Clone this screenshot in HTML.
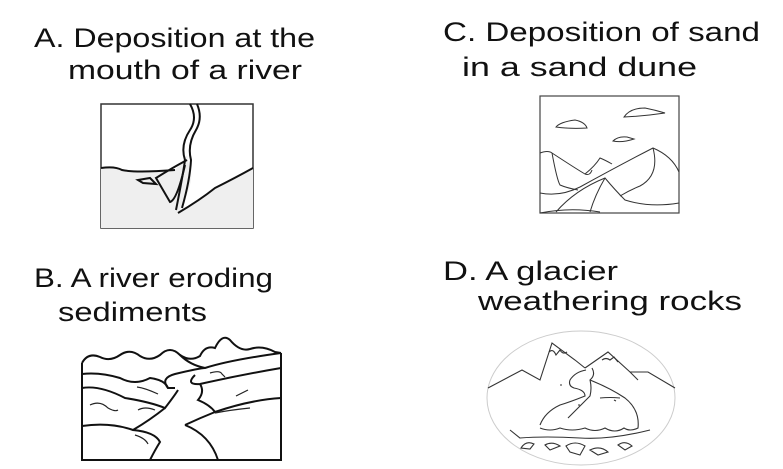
<!DOCTYPE html>
<html><head><meta charset="utf-8"><style>
body{margin:0;background:#fff;}
svg{display:block}
text{font-family:"Liberation Sans",sans-serif;font-size:27px;fill:#111}
</style></head><body>
<svg width="783" height="469" viewBox="0 0 783 469" xmlns="http://www.w3.org/2000/svg">
<text x="34" y="47" textLength="281" lengthAdjust="spacingAndGlyphs">A. Deposition at the</text>
<text x="68" y="79" textLength="234" lengthAdjust="spacingAndGlyphs">mouth of a river</text>
<text x="443" y="41" textLength="317" lengthAdjust="spacingAndGlyphs">C. Deposition of sand</text>
<text x="462" y="76" textLength="235" lengthAdjust="spacingAndGlyphs">in a sand dune</text>
<text x="34" y="287" textLength="239" lengthAdjust="spacingAndGlyphs">B. A river eroding</text>
<text x="58" y="321" textLength="149" lengthAdjust="spacingAndGlyphs">sediments</text>
<text x="443" y="280" textLength="175" lengthAdjust="spacingAndGlyphs">D. A glacier</text>
<text x="478" y="310" textLength="264" lengthAdjust="spacingAndGlyphs">weathering rocks</text>

<!-- A -->
<rect x="101" y="104" width="152" height="124" fill="#fff" stroke="#333" stroke-width="1.5"/>
<path d="M101,168 Q115,166 122,170 Q135,173 175,170 Q182,162 187,155 L190,170 Q195,180 180,210 Q200,200 215,188 Q235,178 253,168 L253,228 L101,228Z" fill="#efefef"/>
<path d="M101,168 Q115,166 122,170 Q135,173 175,170" fill="none" stroke="#111" stroke-width="2"/>
<path d="M178,213 Q200,200 215,188 Q235,178 253,168" fill="none" stroke="#111" stroke-width="2"/>
<path d="M190,104 Q198,118 190,130 Q180,145 185,160 Q183,175 176,210" fill="none" stroke="#111" stroke-width="2"/>
<path d="M197,104 Q203,118 196,130 Q187,145 191,160 Q190,180 182,208" fill="none" stroke="#111" stroke-width="2"/>
<path d="M187,160 Q172,168 156,178 L170,202 Q177,200 185,165" fill="none" stroke="#111" stroke-width="2"/>
<path d="M138,180 L150,178 L156,184 L143,183Z" fill="none" stroke="#111" stroke-width="2"/>

<!-- C -->
<rect x="540" y="96" width="139" height="117" fill="#fff" stroke="#444" stroke-width="1.2"/>
<g fill="none" stroke="#333" stroke-width="1">
<path d="M556,127 Q560,122 575,120 Q585,122 587,128 Q570,129 556,127Z"/>
<path d="M624,117 Q630,108 645,108 Q655,110 665,113 Q645,116 624,117Z"/>
<path d="M613,141 Q618,136 627,137 L634,139 Q622,143 613,141Z"/>
<path d="M540,153 Q548,150 552,153 Q578,170 585,174 Q595,166 600,158 Q605,160 612,164"/>
<path d="M552,153 Q557,180 560,185 Q567,188 578,190"/>
<path d="M540,193 Q560,197 580,187 Q620,165 653,148 Q672,156 679,172"/>
<path d="M585,174 Q590,176 592,170"/>
<path d="M653,148 Q660,175 640,186 Q630,190 620,196"/>
<path d="M556,212 Q575,190 605,178 Q615,190 625,200 Q650,208 679,203"/>
<path d="M605,178 Q595,195 590,212"/>
<path d="M540,213 Q570,207 600,212"/>
</g>

<!-- B -->
<g fill="none" stroke="#111" stroke-width="2">
<path d="M82,363 L82,460 L281,460 L281,353"/>
<path d="M82,363 Q88,352 100,357 Q110,362 120,355 Q130,348 140,356 Q150,362 160,355 Q170,345 180,355 Q190,362 200,356 Q205,345 215,348 Q222,333 230,340 Q240,352 250,349 Q262,345 275,352 L281,353"/>
<path d="M180,355 Q190,365 205,368 Q230,360 281,353"/>
<path d="M82,374 Q100,372 120,378 Q135,386 150,378 Q165,380 168,388 L175,388"/>
<path d="M168,388 Q160,378 175,374 Q200,368 205,368"/>
<path d="M82,388 Q100,385 125,398 Q150,402 165,408 Q175,395 178,390"/>
<path d="M195,375 Q185,385 200,384 Q240,375 281,368"/>
<path d="M200,384 Q205,392 198,400 Q210,405 215,412 Q250,400 281,398"/>
<path d="M165,408 Q150,420 133,430 Q110,422 82,426"/>
<path d="M133,430 Q155,432 160,442 Q155,450 150,460"/>
<path d="M185,425 Q210,435 218,460"/>
<path d="M185,425 Q200,418 215,412"/>
</g>
<g fill="none" stroke="#222" stroke-width="1.2">
<path d="M90,405 Q100,400 108,408 Q115,412 118,410"/>
<path d="M138,410 Q145,406 155,410"/>
<path d="M137,387 Q145,388 158,394"/>
<path d="M210,373 Q220,370 222,374 L225,377"/>
<path d="M236,396 L248,390"/>
<path d="M215,413 Q230,410 250,408"/>
<path d="M135,435 Q145,438 148,444"/>
</g>

<!-- D -->
<ellipse cx="581" cy="398" rx="94" ry="67" fill="#fff" stroke="#ccc" stroke-width="1"/>
<g fill="none" stroke="#333" stroke-width="1.1">
<path d="M488,388 L522,370 L540,380 L552,343 L575,360 L585,368"/>
<path d="M585,368 L608,352 L630,372 L648,372 L675,388"/>
<path d="M630,372 L638,380"/>
<path d="M549,352 Q553,348 556,355 L560,350 Q563,355 567,352"/>
<path d="M602,360 Q606,357 610,360 L614,357 L618,362"/>
<path d="M586,370 Q575,372 570,380 Q568,386 574,388 Q585,390 585,396 Q570,402 560,405 Q545,412 540,425"/>
<path d="M592,368 Q596,375 590,380 Q592,388 590,396 Q580,406 568,418"/>
<path d="M590,380 Q610,388 625,398 Q640,410 638,428 Q630,432 624,428 Q615,434 605,428 Q595,433 585,428 Q572,432 560,428 Q550,432 540,428"/>
<path d="M510,430 L520,438 Q545,436 580,438 Q610,440 650,430"/>
<path d="M521,448 Q526,440 534,444 L530,449Z M545,445 Q552,441 560,446 L550,450Z M566,446 Q575,440 585,446 L580,455 L570,452Z M590,450 Q600,445 608,452 L598,455Z M618,445 Q625,440 632,446 L625,450Z"/>
<path d="M560,385 L562,385 M578,405 L580,405 M614,400 L616,401 M600,398 Q610,397 620,398"/>
</g>
</svg>
</body></html>
